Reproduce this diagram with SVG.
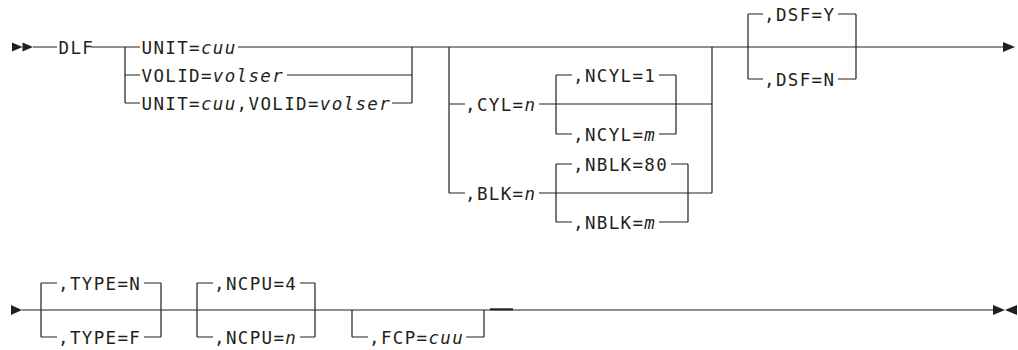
<svg xmlns="http://www.w3.org/2000/svg" width="1018" height="350" viewBox="0 0 1018 350">
<style>
.t{font-family:"DejaVu Sans Mono","Liberation Mono",monospace;font-size:17.5px;letter-spacing:1.35px;fill:#231f20}
.i{font-style:italic}
.c{fill:none;stroke:#231f20;stroke-width:1.2}
.m{fill:#231f20;stroke:none}
</style>
<rect width="1018" height="350" fill="#fff"/>
<g id="connectors">
<path class="c" d="M33 47H57M91 47H125"/>
<path class="c" d="M125 47V103M125 47H140M125 75H140M125 103H140"/>
<path class="c" d="M238 47H1003M287 75H412M392 103H412M412 47V103"/>
<path class="c" d="M449 47V193M449 104H465M449 193H465M539 104H712M539 193H712M712 47V193"/>
<path class="c" d="M556 75V134M556 75H572M556 134H572M659 75H676M659 134H676M676 75V134"/>
<path class="c" d="M556 164V222M556 164H572M556 222H572M671 164H688M659 222H688M688 164V222"/>
<path class="c" d="M748 14V79M748 14H763M748 79H763M838 14H856M838 79H856M856 14V79"/>
<path class="c" d="M22 310H993"/>
<path class="c" d="M41 283V337M41 283H57M41 337H57M144 283H161M144 337H161M161 283V337"/>
<path class="c" d="M197 283V337M197 283H213M197 337H213M300 283H315M300 337H315M315 283V337"/>
<path class="c" d="M352 310V337M352 337H368M466 337H484M484 310V337"/>
<path d="M490 309.3H513" fill="none" stroke="#231f20" stroke-width="2"/>
</g>
<g id="markers">
<path class="m" d="M12 42.5L22.5 47L12 51.5ZM22.5 42.5L33 47L22.5 51.5Z"/>
<path class="m" d="M1003 42L1015 47L1003 52Z"/>
<path class="m" d="M11 305L22 310L11 315Z"/>
<path class="m" d="M993 305L1005 310L993 315ZM1017 305L1005 310L1017 315Z"/>
</g>
<g id="dlf"><text class="t" x="58.5" y="53.5">DLF</text></g>
<g id="unit"><text class="t" x="141.5" y="53.5">UNIT=<tspan class="i">cuu</tspan></text></g>
<g id="volid"><text class="t" x="141.5" y="81.5">VOLID=<tspan class="i">volser</tspan></text></g>
<g id="unit-volid"><text class="t" x="141.5" y="109.5">UNIT=<tspan class="i">cuu</tspan>,VOLID=<tspan class="i">volser</tspan></text></g>
<g id="cyl"><text class="t" x="465" y="110.5">,CYL=<tspan class="i">n</tspan></text></g>
<g id="ncyl1"><text class="t" x="573" y="81.5">,NCYL=1</text></g>
<g id="ncylm"><text class="t" x="573" y="140.5">,NCYL=<tspan class="i">m</tspan></text></g>
<g id="blk"><text class="t" x="465" y="199.5">,BLK=<tspan class="i">n</tspan></text></g>
<g id="nblk80"><text class="t" x="573" y="170.5">,NBLK=80</text></g>
<g id="nblkm"><text class="t" x="573" y="228.5">,NBLK=<tspan class="i">m</tspan></text></g>
<g id="dsfy"><text class="t" x="764" y="20.5">,DSF=Y</text></g>
<g id="dsfn"><text class="t" x="764" y="85.5">,DSF=N</text></g>
<g id="typen"><text class="t" x="58" y="289.5">,TYPE=N</text></g>
<g id="typef"><text class="t" x="58" y="343.5">,TYPE=F</text></g>
<g id="ncpu4"><text class="t" x="214" y="289.5">,NCPU=4</text></g>
<g id="ncpun"><text class="t" x="214" y="343.5">,NCPU=<tspan class="i">n</tspan></text></g>
<g id="fcp"><text class="t" x="369" y="343.5">,FCP=<tspan class="i">cuu</tspan></text></g>
</svg>
